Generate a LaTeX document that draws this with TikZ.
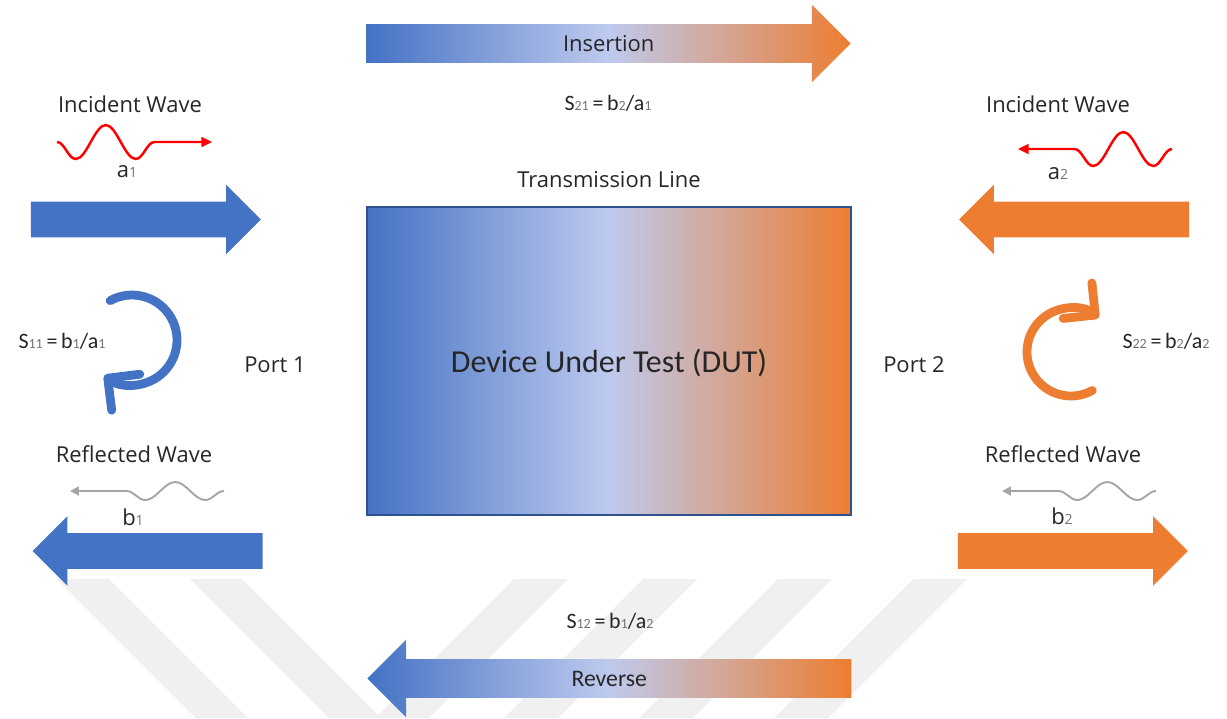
\documentclass[tikz,border=0pt]{standalone}
\usepackage{fontspec}
\setmainfont{Open Sans}
\newfontfamily\calfont{Carlito}
\usetikzlibrary{positioning,calc,shapes.arrows,arrows.meta,decorations.pathmorphing}

\definecolor{pblue}{RGB}{68,114,196}
\definecolor{porange}{RGB}{237,125,49}
\definecolor{pmid}{RGB}{190,202,238}
\definecolor{dutedge}{RGB}{47,82,143}
\definecolor{wgray}{RGB}{166,166,166}
\definecolor{wmark}{RGB}{240,240,240}

\newcommand{\ix}[1]{{\fontsize{8}{8}\selectfont\color{black!55}#1}}

\tikzset{
  lbl/.style={font=\fontsize{12.5}{14}\selectfont, text=black!85, inner sep=2pt},
  eqn/.style={font=\calfont\fontsize{12.5}{15}\selectfont, text=black!85, inner sep=2pt},
  portarrow/.style={single arrow, single arrow head extend=0.34cm, minimum width=1.38cm,
    minimum height=4.6cm, inner xsep=0pt, inner ysep=0.35cm},
  longarrow/.style={single arrow, single arrow head extend=0.39cm, minimum width=1.54cm,
    minimum height=9.68cm, inner xsep=0pt, inner ysep=0.38cm,
    left color=pblue, right color=porange, middle color=pmid},
  inwave/.style={red, line width=1.4pt, decorate,
    decoration={snake, amplitude=0.34cm, segment length=1.2cm, post length=0.7cm},
    -{Triangle[length=6pt,width=5.5pt]}},
  outwave/.style={wgray, line width=1.1pt, decorate,
    decoration={snake, amplitude=0.18cm, segment length=1.2cm, post length=0.7cm},
    -{Triangle[length=5pt,width=5pt]}},
  refl/.style={line width=5pt, line cap=round, -{Straight Barb[length=13pt,width=26pt,round]}}
}

\begin{document}
\begin{tikzpicture}[x=0.02cm, y=-0.02cm]
  \useasboundingbox (0,0) rectangle (1227,718);

  % Watermark stripes at the bottom
  \foreach \sx in {57,190}
    \fill[wmark] (\sx,579) -- ++(52,0) -- ++(139,139) -- ++(-52,0) -- cycle;
  \foreach \sx in {514,643,778,913}
    \fill[wmark] (\sx,579) -- ++(54,0) -- ++(-139,139) -- ++(-54,0) -- cycle;

  % The device in the middle
  \node[draw=dutedge, line width=0.8pt, left color=pblue, right color=porange, middle color=pmid,
    minimum width=9.68cm, minimum height=6.16cm, text=black!85, text depth=0pt,
    font=\calfont\fontsize{18.2}{20}\selectfont] (dut) at (609,361) {Device Under Test (DUT)};
  \node[lbl, above=0.3cm of dut] (tline) {Transmission Line};

  % Insertion on top, reverse at the bottom
  \node[longarrow] (ins) at (599,43.5) {};
  \node[lbl] (instxt) at ($(ins.tail)!0.5!(ins.tip)$) {Insertion};
  \node[eqn] (s21) at (608,103) {S\ix{21}\,=\,b\ix{2}/a\ix{1}};
  \node[eqn] (s12) at (610,621) {S\ix{12}\,=\,b\ix{1}/a\ix{2}};
  \node[longarrow, shape border rotate=180] (rev) at (619,678.5) {};
  \node[lbl, font=\calfont\fontsize{13.5}{15}\selectfont] (revtxt) at ($(rev.tail)!0.5!(rev.tip)$) {Reverse};

  % Port 1
  \node[lbl] (p1) at (275,365) {Port 1};
  \node[portarrow, fill=pblue] (in1) at (137,219.5) {};
  \node[portarrow, fill=pblue, shape border rotate=180] (out1) at (156.5,551) {};
  \node[lbl] (inc1) at (130,104) {Incident Wave};
  \coordinate (w1s) at (57,142);
  \coordinate (w1e) at (212,142);
  \draw[inwave, decoration={mirror}] (w1s) -- (w1e);
  \node[lbl] (a1) at (127,172) {a\ix{1}};
  \node[lbl] (ref1) at (134,454) {Reflected Wave};
  \coordinate (g1s) at (224,491);
  \coordinate (g1e) at (70,491);
  \draw[outwave] (g1s) -- (g1e);
  \node[lbl] (b1) at (133,517) {b\ix{1}};
  \coordinate (c11) at (132,340);
  \draw[pblue, refl] ([shift={(-119:45)}]c11) arc[start angle=-119, end angle=128, radius=45];
  \node[eqn] (s11) at (62,341) {S\ix{11}\,=\,b\ix{1}/a\ix{1}};

  % Port 2
  \node[lbl] (p2) at (914,365) {Port 2};
  \node[portarrow, fill=porange, shape border rotate=180] (in2) at (1083,219.5) {};
  \node[portarrow, fill=porange] (out2) at (1064,551) {};
  \node[lbl] (inc2) at (1058,104) {Incident Wave};
  \coordinate (w2s) at (1172,149);
  \coordinate (w2e) at (1018,149);
  \draw[inwave] (w2s) -- (w2e);
  \node[lbl] (a2) at (1058,174) {a\ix{2}};
  \node[lbl] (ref2) at (1063,454) {Reflected Wave};
  \coordinate (g2s) at (1156,491);
  \coordinate (g2e) at (1002,491);
  \draw[outwave] (g2s) -- (g2e);
  \node[lbl] (b2) at (1062,516) {b\ix{2}};
  \coordinate (c22) at (1071,352);
  \draw[porange, refl] ([shift={(61:44)}]c22) arc[start angle=61, end angle=309, radius=44];
  \node[eqn] (s22) at (1166,341) {S\ix{22}\,=\,b\ix{2}/a\ix{2}};
\end{tikzpicture}
\end{document}
